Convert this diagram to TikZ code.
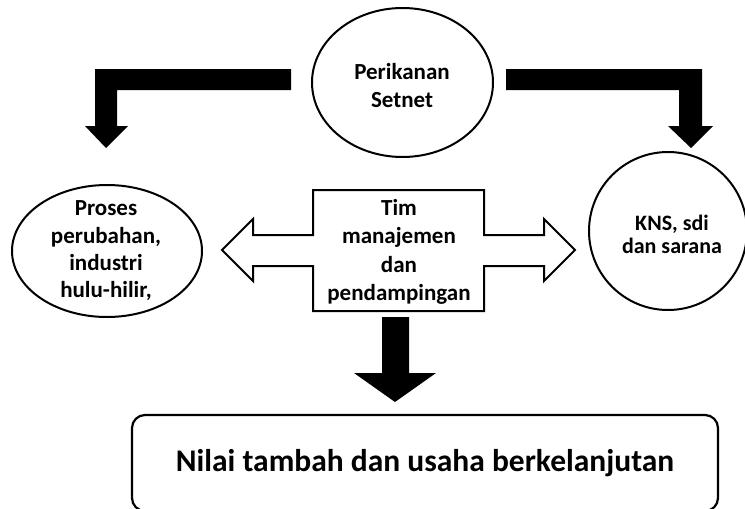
\documentclass[tikz,border=0pt]{standalone}
\usepackage{fontspec}
\setmainfont{Carlito}
\usetikzlibrary{shapes.geometric}
\begin{document}
\begin{tikzpicture}[x=1pt,y=-1pt,line join=miter,
  shapeline/.style={draw=black,line width=2pt},
  txt/.style={font=\bfseries\fontsize{23}{28}\selectfont,align=center,inner sep=0pt},
  blk/.style={fill=black,draw=none}]
\clip (0,0) rectangle (745,509);
\fill[white] (0,0) rectangle (745,509);

% top ellipse
\node[shapeline,ellipse,minimum width=181,minimum height=149,inner sep=0pt] (setnet) at (402.5,82.5) {};
\node[txt] (setnett) at (402,86) {Perikanan\\Setnet};

% left ellipse
\node[shapeline,ellipse,minimum width=190,minimum height=132,inner sep=0pt] (proses) at (107,251) {};
\node[txt,font=\bfseries\fontsize{23}{27.3}\selectfont] (prosest) at (106,251) {Proses\\perubahan,\\industri\\hulu-hilir,};

% right circle
\node[shapeline,circle,minimum size=158,inner sep=0pt] (kns) at (668,231) {};
\node[txt,font=\bfseries\fontsize{22}{23.5}\selectfont] (knst) at (672,234.5) {KNS, sdi\\dan sarana};

% center box with double arrow
\node[minimum width=171,minimum height=121,inner sep=0pt] (tim) at (398.5,250.5) {};
\draw[shapeline,fill=white]
  (313,190) -- (484,190) -- (484,235) -- (544,235) -- (544,219) -- (575,250)
  -- (544,281) -- (544,266) -- (484,266) -- (484,311) -- (313,311) -- (313,266)
  -- (253,266) -- (253,281) -- (222,250) -- (253,219) -- (253,235) -- (313,235) -- cycle;
\node[txt,font=\bfseries\fontsize{23}{28.3}\selectfont] (timt) at (399,252) {Tim\\manajemen\\dan\\pendampingan};

% black L-arrows
\fill[blk] (291,69) -- (95,69) -- (95,126) -- (85,126) -- (106,148) -- (128,126)
  -- (117,126) -- (117,90) -- (291,90) -- cycle;
\fill[blk] (506,69) -- (702,69) -- (702,126) -- (713,126) -- (691,148) -- (668,126)
  -- (679,126) -- (679,90) -- (506,90) -- cycle;

% down arrow
\fill[blk] (382,317) -- (409,317) -- (409,373) -- (436,373) -- (395,402)
  -- (354,373) -- (382,373) -- cycle;

% bottom box
\node[draw=black,line width=2.2pt,rounded corners=13,minimum width=586,minimum height=96,inner sep=0pt,
  font=\bfseries\fontsize{31.5}{36}\selectfont] (nilai) at (425,463) {Nilai tambah dan usaha berkelanjutan};
\end{tikzpicture}
\end{document}
